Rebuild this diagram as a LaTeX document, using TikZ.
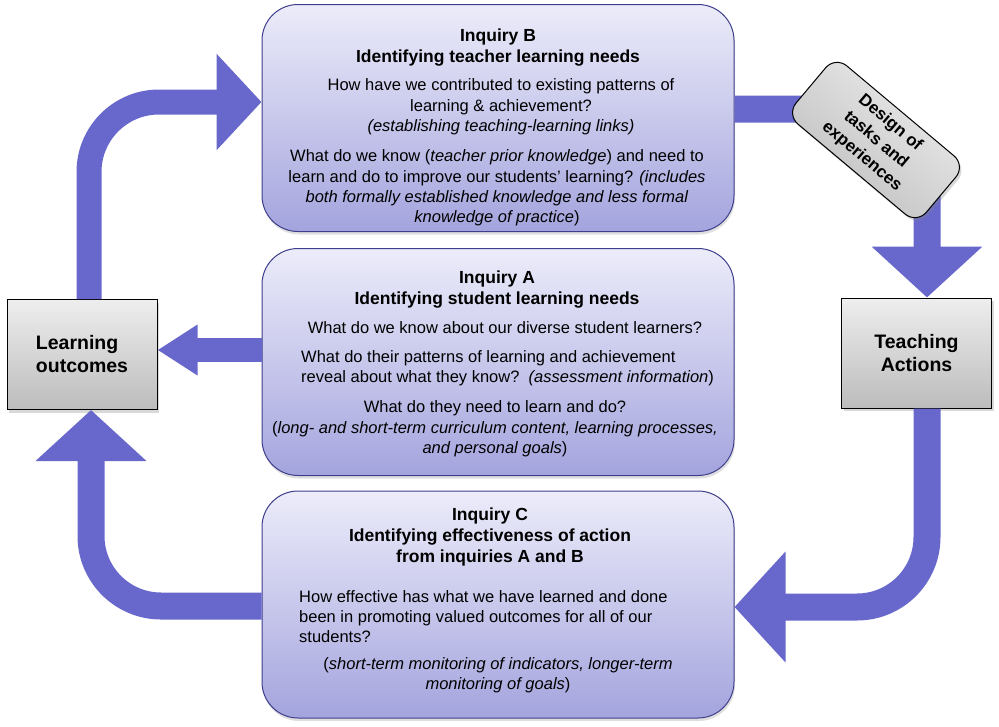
\documentclass[tikz,border=0pt]{standalone}
\usepackage{fontspec}
\setmainfont{Liberation Sans}
\usetikzlibrary{arrows.meta,shadows}
\definecolor{flowblue}{RGB}{104,104,204}
\definecolor{inqtop}{RGB}{236,236,250}
\definecolor{inqbot}{RGB}{164,164,222}
\definecolor{inqline}{RGB}{62,62,140}
\definecolor{greytop}{RGB}{238,238,238}
\definecolor{greybot}{RGB}{188,188,188}
\tikzset{
  inqbox/.style={draw=inqline, line width=1pt, rounded corners=36pt,
    top color=inqtop, bottom color=inqbot, minimum width=472pt,
    minimum height=227pt,
    drop shadow={opacity=0.25,shadow xshift=1pt,shadow yshift=-3pt}},
  greybox/.style={draw=black, line width=1pt, top color=greytop,
    bottom color=greybot, minimum width=150pt, minimum height=110pt,
    font=\fontsize{19.5}{23}\selectfont\bfseries,
    drop shadow={opacity=0.3,shadow xshift=2pt,shadow yshift=-3pt}},
  txt/.style={font=\fontsize{16.5}{20.3}\selectfont, align=center, inner sep=0pt},
  ttl/.style={txt, font=\fontsize{17.5}{21}\selectfont\bfseries},
  flowarrow/.style={draw=flowblue, line width=27pt, rounded corners=70pt,
    line join=round, -{Triangle[length=51pt,width=108pt]}},
}
\begin{document}
\begin{tikzpicture}[x=1pt,y=-1pt]
  \useasboundingbox (0,0) rectangle (999,726);
  % the three inquiries
  \node[inqbox] (inqb) at (498,118) {};
  \node[inqbox] (inqa) at (498,362) {};
  \node[inqbox] (inqc) at (498,604.5) {};
  % outcomes and actions
  \node[greybox, align=left] (lo) at (82,354.5) {Learning\\outcomes};
  \node[greybox, align=center] (ta) at (916.5,353) {Teaching\\Actions};

  % inquiry B
  \node[ttl] (ttlb) at (498,47.5) {Inquiry B\\Identifying teacher learning needs};
  \node[txt] (qb1) at (501,107) {How have we contributed to existing patterns of\\
    learning \& achievement?\\\textit{(establishing teaching-learning links)}};
  \node[txt] (qb2) at (497,188) {What do we know (\textit{teacher prior knowledge}) and need to\\
    learn and do to improve our students' learning? \textit{(includes}\\
    \textit{both formally established knowledge and less formal}\\
    \textit{knowledge of practice})};

  % inquiry A
  \node[ttl] (ttla) at (497,289.5) {Inquiry A\\Identifying student learning needs};
  \node[txt] (qa1) at (505,328) {What do we know about our diverse student learners?};
  \node[txt, align=left, anchor=west] (qa2) at (301,368.5) {What do their patterns of learning and achievement\\
    reveal about what they know?\ \ \textit{(assessment information})};
  \node[txt] (qa3) at (495,429) {What do they need to learn and do?\\
    (\textit{long- and short-term curriculum content, learning processes,}\\
    \textit{and personal goals})};

  % inquiry C
  \node[ttl] (ttlc) at (490,537) {Inquiry C\\Identifying effectiveness of action\\from inquiries A and B};
  \node[txt, align=left, anchor=west] (qc1) at (299,616.5) {How effective has what we have learned and done\\
    been in promoting valued outcomes for all of our\\students?};
  \node[txt] (qc2) at (498,675.5) {(\textit{short-term monitoring of indicators, longer-term}\\
    \textit{monitoring of goals})};

  % cycle arrows
  \draw[flowarrow, line width=25pt, -{Triangle[length=45pt,width=94pt]}]
    ([xshift=7pt]lo.north) |- ([yshift=16pt]inqb.west);
  \draw[flowarrow, rounded corners=0pt] ([yshift=9pt]inqb.east) -- ++(106,0)
    -- ([xshift=10.5pt,yshift=108pt]ta.north) -- ([xshift=10.5pt]ta.north);
  \draw[flowarrow] ([xshift=10.5pt]ta.south) |- ([yshift=-2.5pt]inqc.east);
  \draw[flowarrow] ([yshift=-1.5pt]inqc.west) -| ([xshift=9pt]lo.south);
  \draw[flowarrow, line width=24pt, -{Triangle[length=40pt,width=48pt]}]
    ([yshift=12pt]inqa.west) -- ([yshift=12pt]inqa.west -| lo.east);

  % design step on the arrow
  \node[draw=black, line width=1pt, rounded corners=15pt, top color=greytop,
    bottom color=greybot, shading angle=-40, rotate=-40, minimum width=170pt,
    minimum height=76pt, align=center, inner sep=0pt,
    font=\fontsize{17}{22}\selectfont\bfseries,
    drop shadow={opacity=0.3,shadow xshift=2pt,shadow yshift=-3pt}]
    (design) at (876,140) {Design of\\tasks and\\experiences};
\end{tikzpicture}
\end{document}
